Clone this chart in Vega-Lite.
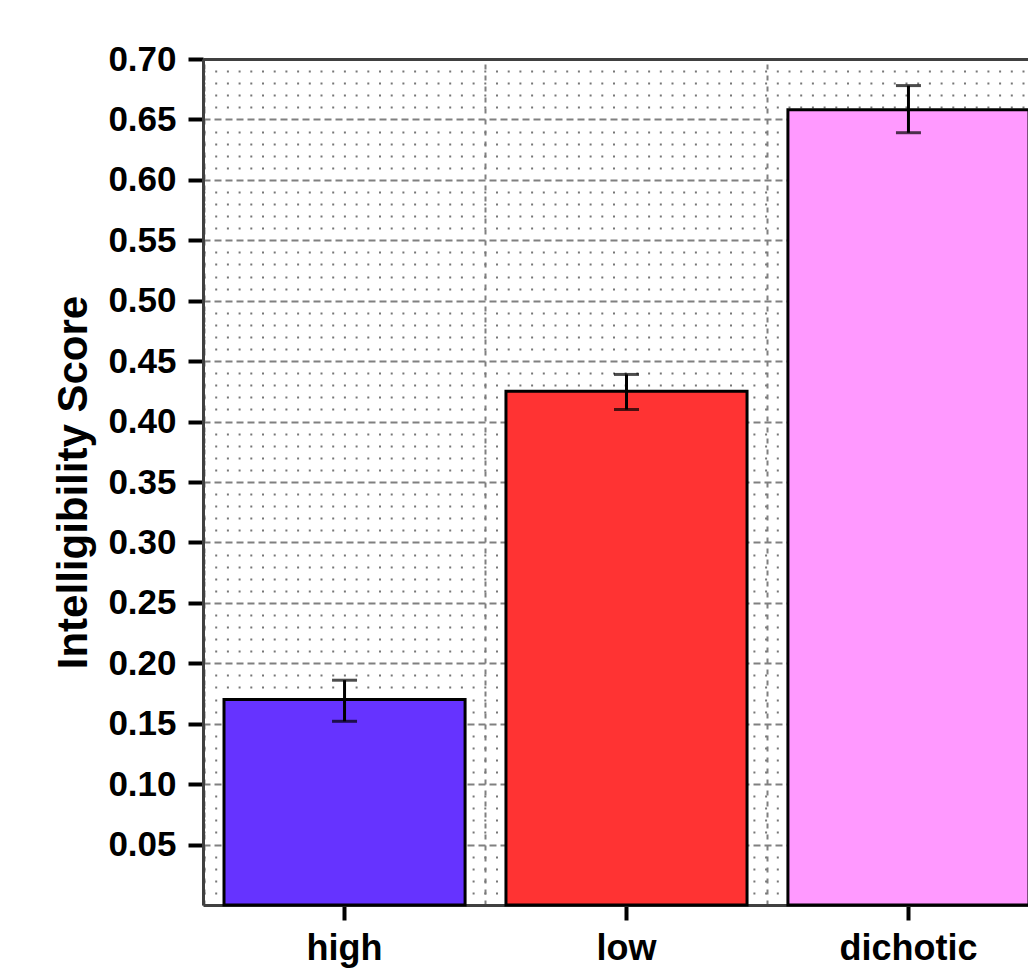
{
  "$schema": "https://vega.github.io/schema/vega-lite/v6.json",
  "autosize": {"type": "none"},
  "width": 825,
  "height": 846,
  "padding": {"left": 203, "top": 59, "right": 0, "bottom": 67},
  "background": "white",
  "config": {"view": {"stroke": null}, "font": "Liberation Sans"},
  "data": {"values": [
    {"cond": "high", "score": 0.17, "lo": 0.152, "hi": 0.186},
    {"cond": "low", "score": 0.425, "lo": 0.41, "hi": 0.439},
    {"cond": "dichotic", "score": 0.658, "lo": 0.639, "hi": 0.678}
  ]},
  "layer": [
    {
      "mark": {"type": "bar", "stroke": "black", "strokeWidth": 3},
      "encoding": {
        "x": {
          "field": "cond", "type": "nominal", "sort": ["high", "low", "dichotic"],
          "scale": {"range": [0, 847], "paddingInner": 0.145, "paddingOuter": 0.0745},
          "axis": {
            "orient": "bottom", "title": null, "grid": false, "labelAngle": 0,
            "domainColor": "#404040", "domainWidth": 3,
            "tickColor": "black", "tickWidth": 4, "tickSize": 15,
            "labelFontSize": 36, "labelFontWeight": "bold", "labelColor": "black", "labelPadding": 11
          }
        },
        "y": {
          "field": "score", "type": "quantitative",
          "scale": {"domain": [0, 0.7], "nice": false, "zero": true},
          "axis": {
            "orient": "left",
            "values": [0.05, 0.1, 0.15, 0.2, 0.25, 0.3, 0.35, 0.4, 0.45, 0.5, 0.55, 0.6, 0.65, 0.7],
            "format": ".2f", "labelOverlap": false, "labelFlush": false,
            "grid": true, "gridDash": [7, 4], "gridColor": "#808080", "gridWidth": 2,
            "domainColor": "#404040", "domainWidth": 3,
            "tickColor": "black", "tickWidth": 4, "tickSize": 15,
            "labelFontSize": 35, "labelFontWeight": "bold", "labelColor": "black", "labelPadding": 12,
            "title": "Intelligibility Score", "titleFontSize": 42, "titleFontWeight": "bold",
            "titleColor": "black", "titlePadding": 12
          }
        },
        "color": {
          "field": "cond", "type": "nominal",
          "scale": {"domain": ["high", "low", "dichotic"], "range": ["#6633FF", "#FF3333", "#FF99FF"]},
          "legend": null
        }
      }
    },
    {
      "mark": {"type": "rule", "color": "black", "strokeWidth": 3},
      "encoding": {
        "x": {
          "field": "cond", "type": "nominal", "sort": ["high", "low", "dichotic"],
          "axis": {
            "orient": "top", "title": null, "labels": false, "ticks": false,
            "domain": true, "domainColor": "#404040", "domainWidth": 3,
            "grid": true, "bandPosition": 0, "tickOffset": -20.5, "tickExtra": true,
            "gridDash": [5, 6], "gridColor": "#808080", "gridWidth": 2
          }
        },
        "y": {
          "field": "lo", "type": "quantitative",
          "axis": {
            "orient": "left", "offset": 0, "title": null, "labels": false, "ticks": false, "domain": false,
            "values": [0.01, 0.02, 0.03, 0.04, 0.06, 0.07, 0.08, 0.09, 0.11, 0.12, 0.13, 0.14, 0.16, 0.17, 0.18, 0.19, 0.21, 0.22, 0.23, 0.24, 0.26, 0.27, 0.28, 0.29, 0.31, 0.32, 0.33, 0.34, 0.36, 0.37, 0.38, 0.39, 0.41, 0.42, 0.43, 0.44, 0.46, 0.47, 0.48, 0.49, 0.51, 0.52, 0.53, 0.54, 0.56, 0.57, 0.58, 0.59, 0.61, 0.62, 0.63, 0.64, 0.66, 0.67, 0.68, 0.69],
            "grid": true, "gridDash": [2, 9.7], "gridColor": "#777777", "gridWidth": 2
          }
        },
        "y2": {"field": "hi"}
      }
    },
    {
      "mark": {"type": "tick", "color": "black", "thickness": 3, "size": 25},
      "encoding": {
        "x": {"field": "cond", "type": "nominal", "sort": ["high", "low", "dichotic"], "axis": null},
        "y": {"field": "lo", "type": "quantitative", "axis": null}
      }
    },
    {
      "mark": {"type": "tick", "color": "black", "thickness": 3, "size": 25},
      "encoding": {
        "x": {"field": "cond", "type": "nominal", "sort": ["high", "low", "dichotic"], "axis": null},
        "y": {"field": "hi", "type": "quantitative", "axis": null}
      }
    }
  ],
  "resolve": {"axis": {"x": "independent", "y": "independent"}}
}
